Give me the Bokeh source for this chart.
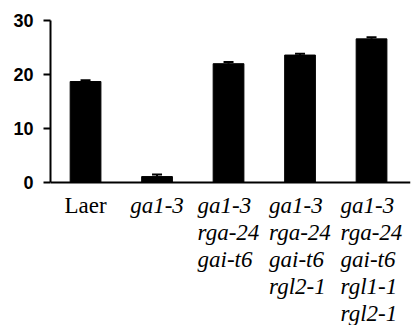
from bokeh.plotting import figure
from bokeh.models import ColumnDataSource, Whisker, TeeHead, FixedTicker, Range1d, Span
from bokeh.core.properties import value
from bokeh.embed import file_html
from bokeh.resources import INLINE

# ---- data ----
genotype_lines = [
    ["Laer"],
    ["ga1-3"],
    ["ga1-3", "rga-24", "gai-t6"],
    ["ga1-3", "rga-24", "gai-t6", "rgl2-1"],
    ["ga1-3", "rga-24", "gai-t6", "rgl1-1", "rgl2-1"],
]
values = [18.7, 1.1, 22.0, 23.6, 26.6]
errors = [0.25, 0.4, 0.3, 0.25, 0.3]
y_ticks = [0, 10, 20, 30]

x = list(range(len(values)))
upper = [v + e for v, e in zip(values, errors)]
src = ColumnDataSource(dict(x=x, top=values, upper=upper, lower=values))

# frame extends below zero so the category labels can be drawn inside it
p = figure(width=412, height=325, output_backend="svg", toolbar_location=None,
           x_range=Range1d(-0.49, 4.545), y_range=Range1d(-26.48, 30),
           min_border_left=50, min_border_right=2, min_border_top=20,
           min_border_bottom=0)
p.outline_line_color = None
p.xgrid.visible = False
p.ygrid.visible = False
p.background_fill_color = "white"
p.border_fill_color = "white"
p.xaxis.visible = False

p.vbar(x="x", top="top", width=0.43, bottom=0, source=src,
       fill_color="black", line_color="black")

w = Whisker(base="x", upper="upper", lower="lower", source=src,
            line_color="black", line_width=2,
            upper_head=TeeHead(size=10, line_color="black", line_width=2),
            lower_head=None)
p.add_layout(w)

# x axis line at zero
p.add_layout(Span(location=0, dimension="width", line_color="black", line_width=2))

# y axis limited to 0..30
p.yaxis.bounds = (0, 30)
p.yaxis.ticker = FixedTicker(ticks=y_ticks)
p.yaxis.minor_tick_line_color = None
p.yaxis.major_tick_out = 7
p.yaxis.major_tick_in = 0
p.yaxis.major_tick_line_width = 2
p.yaxis.axis_line_width = 2
p.yaxis.major_label_standoff = 10
p.yaxis.major_label_text_font = "Liberation Sans"
p.yaxis.major_label_text_font_style = "bold"
p.yaxis.major_label_text_font_size = "18px"
p.yaxis.major_label_text_color = "black"

# category labels as text glyphs (multi-line, left aligned blocks)
line_step = 27
first_baseline = 23
groups = {}
for xi, lines in zip(x, genotype_lines):
    style = "normal" if lines == ["Laer"] else "italic"
    if len(lines) == 1:
        align, xoff = "center", 0
    else:
        align, xoff = "left", -31
    g = groups.setdefault((style, align), dict(x=[], y=[], text=[], xo=[], yo=[]))
    for k, txt in enumerate(lines):
        g["x"].append(xi)
        g["y"].append(0)
        g["text"].append(txt)
        g["xo"].append(xoff)
        g["yo"].append(first_baseline + k * line_step)

for (style, align), g in groups.items():
    p.text(x="x", y="y", text="text", x_offset="xo", y_offset="yo",
           source=ColumnDataSource(g),
           text_font=value("Liberation Serif, Times New Roman, serif"),
           text_font_style=style,
           text_font_size="23px", text_align=align,
           text_baseline="alphabetic", text_color="black")

open("out.html", "w").write(file_html(p, INLINE))
